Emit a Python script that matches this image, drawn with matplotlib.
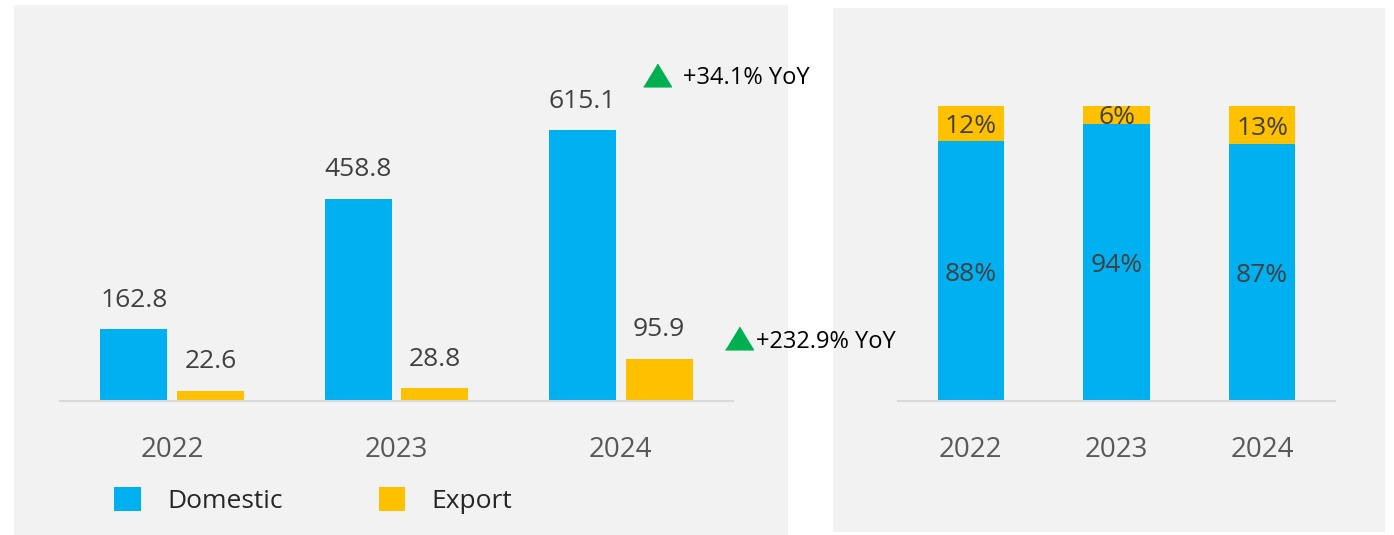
import matplotlib
matplotlib.use("Agg")
import matplotlib.pyplot as plt
from matplotlib.patches import Rectangle
import numpy as np

# ---- data ----
years = ["2022", "2023", "2024"]
domestic = [162.8, 458.8, 615.1]
export = [22.6, 28.8, 95.9]
dom_share = [88, 94, 87]
exp_share = [12, 6, 13]
yoy_domestic = "+34.1% YoY"
yoy_export = "+232.9% YoY"

BLUE = "#00B0F0"
GOLD = "#FFC000"
GREEN = "#00B050"
BG = "#F2F2F2"
LABEL = "#404040"
TICK = "#595959"

plt.rcParams["font.family"] = ["Open Sans", "DejaVu Sans"]

W, H = 1394, 535
fig = plt.figure(figsize=(W / 100, H / 100), dpi=100, facecolor="white")


def px_rect(x0, y0, x1, y1):
    """figure-fraction rect from top-left pixel coords"""
    return [x0 / W, 1 - y1 / H, (x1 - x0) / W, (y1 - y0) / H]


# background panels
for (x0, y0, x1, y1) in [(14, 5, 788, 535), (833, 8, 1385, 532)]:
    fig.patches.append(Rectangle((x0 / W, 1 - y1 / H), (x1 - x0) / W, (y1 - y0) / H,
                                 transform=fig.transFigure, facecolor=BG,
                                 edgecolor="none", zorder=-5))

# ---- left: grouped bars ----
ax1 = fig.add_axes(px_rect(60, 40, 733, 401))
ax1.set_facecolor("none")
x = np.arange(len(years))
bw = 0.298
off = 0.171
b1 = ax1.bar(x - off, domestic, bw, color=BLUE, label="Domestic", zorder=2)
b2 = ax1.bar(x + off, export, bw, color=GOLD, label="Export", zorder=2)
ax1.set_xlim(-0.5, 2.5)
ax1.set_ylim(0, 820)
for bars, vals in [(b1, domestic), (b2, export)]:
    for r, v in zip(bars, vals):
        ax1.annotate(f"{v:.1f}", (r.get_x() + r.get_width() / 2, v),
                     xytext=(0, 12), textcoords="offset points",
                     ha="center", va="bottom", fontsize=19, color=LABEL)
ax1.set_xticks(x)
ax1.set_xticklabels(years, fontsize=20, color=TICK)
ax1.tick_params(axis="x", length=0, pad=25)
ax1.set_yticks([])
for s in ["top", "right", "left"]:
    ax1.spines[s].set_visible(False)
ax1.spines["bottom"].set_color("#D9D9D9")
ax1.spines["bottom"].set_linewidth(1.5)

leg = ax1.legend(loc="upper left", bbox_to_anchor=(101 / W, 1 - 474 / H),
                 bbox_transform=fig.transFigure, ncol=2, frameon=False,
                 fontsize=19, handlelength=1.0, handleheight=1.0,
                 handletextpad=1.0, columnspacing=3.65, borderpad=0)
for t in leg.get_texts():
    t.set_color("#262626")

# YoY annotations
tri = [(-1, -0.82), (1, -0.82), (0, 0.82)]
for (tx, ty, txt, txx) in [(657, 74.5, yoy_domestic, 683), (739, 337.5, yoy_export, 756)]:
    fig.add_artist(plt.Line2D([tx / W], [1 - ty / H], marker=tri, markersize=20,
                              color=GREEN, linestyle="none", transform=fig.transFigure))
    fig.text(txx / W, 1 - (ty + 4) / H, txt, fontsize=17, color="black",
             ha="left", va="center")

# ---- right: 100% stacked bars ----
ax2 = fig.add_axes(px_rect(898, 40, 1335, 401))
ax2.set_facecolor("none")
bw2 = 0.454
s1 = ax2.bar(x, dom_share, bw2, color=BLUE, zorder=2)
s2 = ax2.bar(x, exp_share, bw2, bottom=dom_share, color=GOLD, zorder=2)
ax2.set_xlim(-0.5, 2.5)
ax2.set_ylim(0, 122.4)
for i in range(len(years)):
    ax2.annotate(f"{dom_share[i]}%", (x[i], dom_share[i] / 2), xytext=(0, -2),
                 textcoords="offset points", ha="center", va="center",
                 fontsize=19, color=LABEL)
    ax2.annotate(f"{exp_share[i]}%", (x[i], dom_share[i] + exp_share[i] / 2),
                 xytext=(0, -2), textcoords="offset points", ha="center",
                 va="center", fontsize=19, color=LABEL)
ax2.set_xticks(x)
ax2.set_xticklabels(years, fontsize=20, color=TICK)
ax2.tick_params(axis="x", length=0, pad=25)
ax2.set_yticks([])
for s in ["top", "right", "left"]:
    ax2.spines[s].set_visible(False)
ax2.spines["bottom"].set_color("#D9D9D9")
ax2.spines["bottom"].set_linewidth(1.5)

fig.savefig("out.png", dpi=100, facecolor="white")
